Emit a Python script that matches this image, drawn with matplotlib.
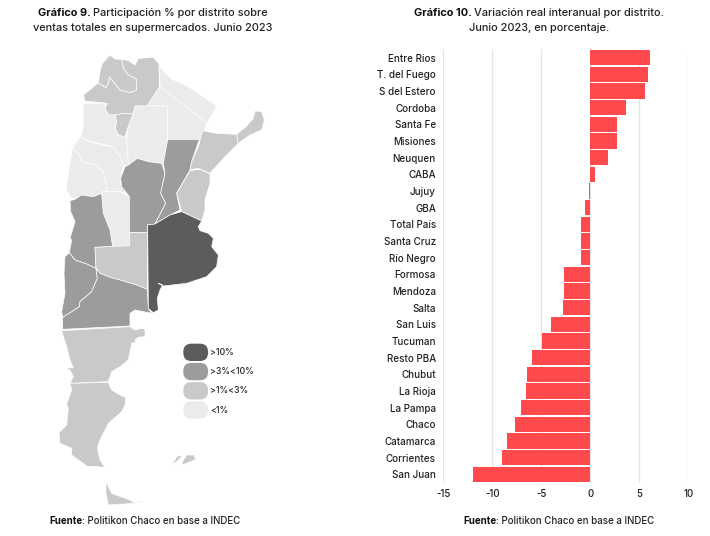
import matplotlib
matplotlib.use("Agg")
import matplotlib.pyplot as plt
from matplotlib.patches import Polygon, FancyBboxPatch

plt.rcParams['font.family'] = ['Inter', 'DejaVu Sans']
plt.rcParams['axes.unicode_minus'] = False

# ---- bar chart data ----
districts = ["Entre Rios", "T. del Fuego", "S del Estero", "Cordoba", "Santa Fe", "Misiones",
             "Neuquen", "CABA", "Jujuy", "GBA", "Total País", "Santa Cruz", "Río Negro",
             "Formosa", "Mendoza", "Salta", "San Luis", "Tucuman", "Resto PBA", "Chubut",
             "La Rioja", "La Pampa", "Chaco", "Catamarca", "Corrientes", "San Juan"]
variation = [6.1, 5.85, 5.55, 3.65, 2.75, 2.75, 1.85, 0.45, -0.1, -0.5, -0.9, -0.9, -1.0,
             -2.7, -2.7, -2.8, -4.0, -4.9, -6.0, -6.5, -6.6, -7.1, -7.7, -8.5, -9.05, -12.0]
x_ticks = [-15, -10, -5, 0, 5, 10]

# ---- map data: province outlines ----
DARK, MID, LIGHT, PALE = "#5c5c5c", "#9c9c9c", "#c9c9c9", "#ebebeb"
salta = [(190,165),(215,145),(235,128),(258,143),(265,130),(268,110),(280,125),(300,150),(330,158),(350,150),(350,118),(325,105),(310,85),(305,58),(325,62),(345,75),(355,55),(400,52),(417,72),(418,142),(382,198),(345,198),(340,222),(310,220),(285,225),(265,225),(255,205),(262,190),(195,183)]
jujuy = [(235,128),(240,95),(247,70),(270,45),(285,57),(305,58),(310,85),(325,105),(350,118),(350,150),(330,158),(300,150),(280,125),(268,110),(265,130),(258,143)]
tucuman = [(285,225),(310,220),(340,222),(322,268),(315,292),(295,285),(285,265),(290,245)]
formosa = [(418,78),(450,115),(505,140),(590,197),(578,220),(560,250),(505,205),(450,165),(420,140)]
chaco = [(420,140),(505,205),(560,250),(545,298),(443,298),(442,198),(382,198)]
sgo_estero = [(345,198),(442,198),(442,298),(430,370),(385,365),(352,355),(325,375),(320,320),(322,268),(340,222)]
catamarca = [(190,190),(255,190),(255,205),(265,225),(285,225),(290,245),(285,265),(295,285),(320,295),(325,375),(310,378),(300,350),(280,320),(245,312),(205,303),(180,292),(190,265)]
la_rioja = [(180,292),(205,303),(245,315),(280,320),(300,350),(310,378),(305,395),(302,430),(320,460),(300,455),(262,455),(250,395),(225,375),(185,365),(175,340),(158,322)]
san_juan = [(158,322),(175,340),(185,365),(225,375),(250,395),(262,455),(245,460),(220,470),(185,465),(165,478),(150,470),(138,445),(150,370)]
san_luis = [(245,455),(300,455),(330,470),(328,617),(278,620),(270,570),(250,520)]
mendoza = [(150,482),(165,478),(185,465),(220,470),(245,460),(250,520),(270,570),(278,620),(225,622),(228,685),(200,672),(165,660),(148,638),(155,600),(150,595),(165,545),(152,515)]
cordoba = [(302,415),(315,380),(325,375),(352,355),(385,365),(425,370),(435,400),(422,460),(437,490),(405,552),(382,555),(382,577),(328,577),(328,470),(305,440)]
santa_fe = [(443,298),(538,298),(515,365),(510,390),(470,460),(480,510),(450,525),(405,552),(437,490),(422,460),(435,400),(430,370)]
corrientes = [(548,272),(590,280),(650,283),(655,310),(615,350),(570,400),(535,385),(510,390),(515,365),(535,320)]
misiones = [(650,283),(680,258),(700,235),(705,213),(725,215),(733,240),(725,270),(690,285),(655,310)]
entre_rios = [(510,392),(540,388),(570,402),(570,430),(555,480),(555,510),(545,543),(485,515),(470,460)]
buenos_aires = [(383,555),(405,552),(450,525),(485,515),(545,543),(535,560),(540,572),(565,580),(580,595),(575,620),(595,645),(590,680),(560,710),(500,730),(430,738),(415,730),(428,735),(420,750),(412,775),(415,810),(400,818),(385,805)]
la_pampa = [(225,622),(328,617),(328,577),(382,577),(382,748),(350,735),(300,720),(270,712),(240,700),(228,685)]
neuquen = [(148,638),(165,660),(200,672),(228,685),(232,715),(215,755),(180,785),(178,800),(155,815),(128,832),(125,815),(135,760),(132,700),(135,650)]
rio_negro = [(228,685),(240,700),(270,712),(300,720),(350,735),(382,748),(385,805),(395,820),(345,810),(330,820),(330,858),(128,868),(128,832),(155,815),(178,800),(180,785),(215,755),(232,715)]
chubut = [(125,872),(330,860),(345,870),(365,865),(375,868),(375,890),(355,892),(345,900),(350,905),(335,910),(325,960),(300,980),(275,995),(265,1025),(150,1030),(160,1010),(150,990),(135,985),(160,983),(150,960),(140,920),(130,890)]
santa_cruz = [(150,1030),(265,1027),(275,1050),(300,1065),(317,1072),(315,1095),(305,1115),(265,1150),(240,1200),(232,1225),(240,1260),(255,1282),(200,1278),(155,1245),(155,1225),(120,1210),(117,1178),(140,1155),(145,1105),(140,1092),(155,1050)]
tdf = [(258,1325),(275,1360),(330,1380),(345,1390),(265,1395),(258,1360)]
isla = [(350,1385),(370,1382),(355,1389)]
malvinas_w = [(452,1273),(465,1260),(472,1248),(488,1247),(470,1265)]
malvinas_e = [(485,1275),(490,1260),(500,1245),(522,1245),(527,1258),(505,1268)]

provinces = [(salta, LIGHT), (jujuy, LIGHT), (tucuman, LIGHT), (formosa, PALE), (chaco, PALE),
             (sgo_estero, PALE), (catamarca, PALE), (la_rioja, PALE), (san_juan, PALE),
             (san_luis, PALE), (mendoza, MID), (cordoba, MID), (santa_fe, MID),
             (corrientes, LIGHT), (misiones, LIGHT), (entre_rios, LIGHT), (la_pampa, LIGHT),
             (neuquen, MID), (rio_negro, MID), (buenos_aires, DARK), (chubut, LIGHT),
             (santa_cruz, LIGHT), (tdf, LIGHT), (isla, LIGHT), (malvinas_w, LIGHT), (malvinas_e, LIGHT)]

legend_labels = [">10%", ">3%<10%", ">1%<3%", "<1%"]
legend_colors = [DARK, MID, LIGHT, PALE]

W, H = 710, 536
fig = plt.figure(figsize=(W/100, H/100), dpi=100, facecolor="white")

# ---- map: traced units are 3 per pixel, origin at pixel (20, 40) ----
ax_map = fig.add_axes([0, 0, 1, 1])
ax_map.set_xlim(-60, (W-20)*3)
ax_map.set_ylim((H-40)*3, -120)
ax_map.axis("off")
for pts, col in provinces:
    ax_map.add_patch(Polygon(pts, closed=True, facecolor=col, edgecolor="white", linewidth=0.5, joinstyle="round"))
for i, (lab, col) in enumerate(zip(legend_labels, legend_colors)):
    yc = 937 + i*57.7
    ax_map.add_patch(FancyBboxPatch((490+22, yc-26+22), 74-44, 52-44,
                                    boxstyle="round,pad=22,rounding_size=24",
                                    facecolor=col, edgecolor="none"))
    ax_map.text(570, yc, lab, fontsize=6.3, color="#222222", va="center", ha="left", fontweight=500)

# ---- bars ----
left, right = 443.3, 688.3
top, bottom = 49.3, 482.8
ax = fig.add_axes([left/W, 1-bottom/H, (right-left)/W, (bottom-top)/H])
pos = list(range(len(districts)))
ax.barh(pos, variation, height=0.92, color="#ff494c", edgecolor="none", zorder=3)
ax.set_ylim(len(districts)-0.5, -0.5)
ax.set_xlim(-15, 10)
ax.set_xticks(x_ticks)
ax.set_yticks(pos)
ax.set_yticklabels(districts, fontsize=7.1, color="#222222", fontweight=500)
ax.tick_params(axis="both", length=0)
ax.tick_params(axis="y", pad=5.3)
ax.tick_params(axis="x", pad=4.5, labelsize=7.0, labelcolor="#222222")
for lab in ax.get_xticklabels():
    lab.set_fontweight(500)
ax.grid(axis="x", color="#e4e4e4", linewidth=0.9, zorder=0)
ax.set_axisbelow(True)
for s in ax.spines.values():
    s.set_visible(False)
ax.patch.set_alpha(0)

# ---- texts with a bold lead ----
fig.canvas.draw()
rend = fig.canvas.get_renderer()
def runs(cx, y, bold, rest, size):
    t1 = fig.text(0, 1-y/H, bold, fontsize=size, fontweight="bold", color="#111111", va="center")
    t2 = fig.text(0, 1-y/H, rest, fontsize=size, color="#222222", va="center", fontweight=500)
    w1 = t1.get_window_extent(rend).width
    w2 = t2.get_window_extent(rend).width
    x0 = cx - (w1+w2)/2
    t1.set_x(x0/W)
    t2.set_x((x0+w1)/W)
def plain(cx, y, s, size):
    fig.text(cx/W, 1-y/H, s, fontsize=size, color="#222222", va="center", ha="center", fontweight=500)

runs(153, 13, "Gráfico 9. ", "Participación % por distrito sobre", 7.9)
plain(153, 28, "ventas totales en supermercados. Junio 2023", 7.9)
runs(539, 13, "Gráfico 10. ", "Variación real interanual por distrito.", 7.9)
plain(539, 28, "Junio 2023, en porcentaje.", 7.9)
runs(145, 521, "Fuente", ": Politikon Chaco en base a INDEC", 7.0)
runs(559, 521, "Fuente", ": Politikon Chaco en base a INDEC", 7.0)

fig.savefig("out.png", dpi=100, facecolor="white")
